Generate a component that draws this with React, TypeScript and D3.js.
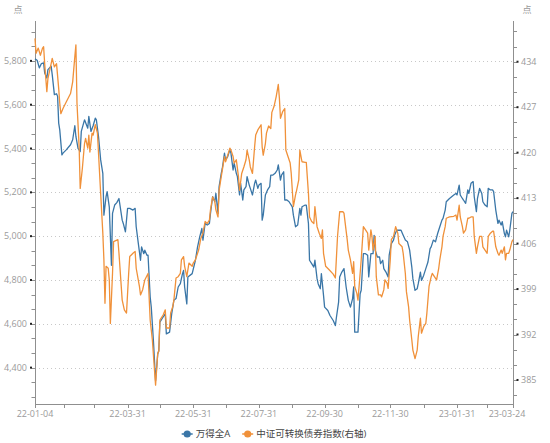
import * as React from 'react';
import * as d3 from 'd3';

// 万得全A (left axis)
const wdDates = [
  '22-01-04', '22-01-06', '22-01-08', '22-01-10', '22-01-12', '22-01-13', '22-01-15', '22-01-16', '22-01-19', '22-01-20',
  '22-01-22', '22-01-24', '22-01-25', '22-01-26', '22-01-27', '22-01-29', '22-01-30', '22-02-02', '22-02-06', '22-02-08',
  '22-02-10', '22-02-11', '22-02-13', '22-02-15', '22-02-16', '22-02-19', '22-02-22', '22-02-23', '22-02-25', '22-02-27',
  '22-03-01', '22-03-02', '22-03-04', '22-03-06', '22-03-08', '22-03-09', '22-03-11', '22-03-12', '22-03-14', '22-03-16',
  '22-03-17', '22-03-19', '22-03-21', '22-03-23', '22-03-26', '22-03-27', '22-03-29', '22-03-31', '22-04-02', '22-04-05',
  '22-04-07', '22-04-08', '22-04-10', '22-04-12', '22-04-13', '22-04-15', '22-04-16', '22-04-18', '22-04-19', '22-04-21',
  '22-04-22', '22-04-24', '22-04-26', '22-04-28', '22-04-29', '22-04-30', '22-05-02', '22-05-05', '22-05-06', '22-05-09',
  '22-05-11', '22-05-13', '22-05-15', '22-05-17', '22-05-19', '22-05-21', '22-05-22', '22-05-23', '22-05-25', '22-05-26',
  '22-05-30', '22-06-02', '22-06-04', '22-06-06', '22-06-08', '22-06-09', '22-06-11', '22-06-13', '22-06-15', '22-06-16',
  '22-06-18', '22-06-20', '22-06-21', '22-06-23', '22-06-24', '22-06-26', '22-06-27', '22-06-29', '22-06-30', '22-07-02',
  '22-07-04', '22-07-05', '22-07-07', '22-07-08', '22-07-10', '22-07-11', '22-07-13', '22-07-14', '22-07-16', '22-07-17',
  '22-07-19', '22-07-20', '22-07-22', '22-07-23', '22-07-25', '22-07-27', '22-07-28', '22-07-30', '22-07-31', '22-08-02',
  '22-08-03', '22-08-04', '22-08-06', '22-08-08', '22-08-10', '22-08-11', '22-08-13', '22-08-15', '22-08-17', '22-08-18',
  '22-08-20', '22-08-21', '22-08-23', '22-08-24', '22-08-26', '22-08-28', '22-08-31', '22-09-01', '22-09-03', '22-09-05',
  '22-09-07', '22-09-08', '22-09-09', '22-09-12', '22-09-13', '22-09-15', '22-09-16', '22-09-18', '22-09-20', '22-09-21',
  '22-09-23', '22-09-24', '22-09-26', '22-09-27', '22-09-29', '22-09-30', '22-10-03', '22-10-05', '22-10-08', '22-10-10',
  '22-10-11', '22-10-13', '22-10-14', '22-10-16', '22-10-18', '22-10-20', '22-10-22', '22-10-24', '22-10-26', '22-10-27',
  '22-10-28', '22-10-30', '22-10-31', '22-11-02', '22-11-03', '22-11-05', '22-11-07', '22-11-09', '22-11-10', '22-11-12',
  '22-11-14', '22-11-15', '22-11-16', '22-11-18', '22-11-20', '22-11-21', '22-11-23', '22-11-24', '22-11-26', '22-11-28',
  '22-11-29', '22-12-01', '22-12-03', '22-12-04', '22-12-06', '22-12-08', '22-12-10', '22-12-12', '22-12-14', '22-12-16',
  '22-12-18', '22-12-20', '22-12-21', '22-12-23', '22-12-25', '22-12-26', '22-12-28', '22-12-29', '22-12-31', '23-01-02',
  '23-01-04', '23-01-06', '23-01-07', '23-01-09', '23-01-11', '23-01-13', '23-01-15', '23-01-17', '23-01-18', '23-01-20',
  '23-01-21', '23-01-24', '23-01-28', '23-01-30', '23-01-31', '23-02-02', '23-02-03', '23-02-05', '23-02-06', '23-02-08',
  '23-02-10', '23-02-11', '23-02-13', '23-02-15', '23-02-16', '23-02-18', '23-02-19', '23-02-21', '23-02-23', '23-02-24',
  '23-02-26', '23-02-28', '23-03-01', '23-03-03', '23-03-05', '23-03-06', '23-03-08', '23-03-10', '23-03-11', '23-03-13',
  '23-03-14', '23-03-16', '23-03-17', '23-03-18', '23-03-20', '23-03-21', '23-03-23', '23-03-24',
];
const wdValues = [
  5809, 5803, 5768, 5788, 5791, 5745, 5722, 5760, 5776, 5737,
  5646, 5650, 5638, 5516, 5485, 5371, 5379, 5394, 5417, 5440,
  5504, 5455, 5401, 5386, 5478, 5531, 5493, 5547, 5478, 5504,
  5539, 5531, 5455, 5348, 5287, 5096, 5180, 5203, 5134, 4867,
  5104, 5142, 5153, 5172, 5073, 5058, 5020, 5127, 5127, 5119,
  5127, 5043, 4966, 4890, 4951, 4920, 4936, 4913, 4913, 4722,
  4676, 4523, 4340, 4462, 4478, 4607, 4623, 4646, 4554, 4562,
  4646, 4707, 4715, 4768, 4783, 4829, 4844, 4768, 4691, 4814,
  4829, 4890, 4951, 4997, 5035, 4982, 5058, 5051, 5058, 5104,
  5180, 5157, 5195, 5104, 5226, 5287, 5310, 5379, 5348, 5363,
  5394, 5379, 5302, 5333, 5287, 5272, 5188, 5241, 5165, 5211,
  5226, 5272, 5233, 5218, 5188, 5241, 5256, 5218, 5233, 5241,
  5073, 5096, 5188, 5211, 5226, 5279, 5279, 5287, 5302, 5325,
  5256, 5279, 5294, 5165, 5165, 5157, 5134, 5096, 5043, 5051,
  5127, 5096, 5134, 5142, 5142, 5058, 4890, 4875, 4859, 4890,
  4806, 4783, 4760, 4829, 4730, 4676, 4661, 4638, 4615, 4592,
  4630, 4699, 4814, 4836, 4852, 4768, 4707, 4676, 4715, 4768,
  4562, 4562, 4562, 4737, 4753, 4920, 4920, 4913, 4814, 4920,
  4920, 5004, 4936, 4905, 4905, 4875, 4890, 4852, 4836, 4814,
  4913, 4966, 4982, 5004, 5027, 5027, 5027, 5004, 4982, 4974,
  4936, 4859, 4806, 4753, 4760, 4783, 4836, 4798, 4821, 4852,
  4882, 4943, 4951, 4982, 4974, 5012, 5043, 5073, 5081, 5119,
  5157, 5172, 5188, 5195, 5188, 5233, 5188, 5172, 5165, 5150,
  5211, 5195, 5241, 5249, 5180, 5112, 5172, 5218, 5195, 5157,
  5142, 5134, 5218, 5211, 5211, 5203, 5119, 5058, 5073, 5051,
  5066, 5012, 4997, 5027, 4997, 5027, 5104, 5112,
];

// 中证可转换债券指数 (right axis)
const cbDates = [
  '22-01-04', '22-01-05', '22-01-07', '22-01-09', '22-01-11', '22-01-12', '22-01-13', '22-01-15', '22-01-16', '22-01-19',
  '22-01-20', '22-01-22', '22-01-24', '22-01-26', '22-01-27', '22-01-28', '22-01-30', '22-02-02', '22-02-06', '22-02-08',
  '22-02-10', '22-02-11', '22-02-12', '22-02-14', '22-02-15', '22-02-17', '22-02-19', '22-02-20', '22-02-22', '22-02-23',
  '22-02-24', '22-02-26', '22-02-27', '22-03-01', '22-03-03', '22-03-04', '22-03-06', '22-03-08', '22-03-09', '22-03-10',
  '22-03-11', '22-03-13', '22-03-14', '22-03-15', '22-03-17', '22-03-18', '22-03-22', '22-03-23', '22-03-26', '22-03-28',
  '22-03-30', '22-04-01', '22-04-02', '22-04-05', '22-04-07', '22-04-08', '22-04-11', '22-04-12', '22-04-14', '22-04-16',
  '22-04-19', '22-04-21', '22-04-23', '22-04-25', '22-04-26', '22-04-28', '22-04-29', '22-04-30', '22-05-03', '22-05-05',
  '22-05-06', '22-05-09', '22-05-10', '22-05-12', '22-05-13', '22-05-15', '22-05-17', '22-05-19', '22-05-20', '22-05-22',
  '22-05-23', '22-05-25', '22-05-27', '22-05-30', '22-05-31', '22-06-02', '22-06-05', '22-06-07', '22-06-09', '22-06-11',
  '22-06-13', '22-06-15', '22-06-16', '22-06-18', '22-06-20', '22-06-21', '22-06-23', '22-06-24', '22-06-26', '22-06-27',
  '22-06-29', '22-06-30', '22-07-02', '22-07-04', '22-07-05', '22-07-07', '22-07-08', '22-07-10', '22-07-12', '22-07-13',
  '22-07-15', '22-07-17', '22-07-19', '22-07-20', '22-07-22', '22-07-23', '22-07-25', '22-07-27', '22-07-28', '22-07-30',
  '22-08-02', '22-08-03', '22-08-04', '22-08-06', '22-08-07', '22-08-09', '22-08-11', '22-08-12', '22-08-14', '22-08-16',
  '22-08-18', '22-08-19', '22-08-20', '22-08-22', '22-08-24', '22-08-25', '22-08-27', '22-08-29', '22-08-30', '22-09-01',
  '22-09-03', '22-09-04', '22-09-06', '22-09-07', '22-09-09', '22-09-12', '22-09-13', '22-09-15', '22-09-16', '22-09-18',
  '22-09-20', '22-09-21', '22-09-23', '22-09-25', '22-09-27', '22-09-28', '22-09-29', '22-10-01', '22-10-04', '22-10-08',
  '22-10-10', '22-10-12', '22-10-14', '22-10-17', '22-10-18', '22-10-21', '22-10-22', '22-10-24', '22-10-26', '22-10-27',
  '22-10-28', '22-10-30', '22-10-31', '22-11-02', '22-11-03', '22-11-05', '22-11-07', '22-11-09', '22-11-10', '22-11-12',
  '22-11-13', '22-11-14', '22-11-16', '22-11-17', '22-11-19', '22-11-21', '22-11-22', '22-11-24', '22-11-25', '22-11-27',
  '22-11-28', '22-11-30', '22-12-01', '22-12-03', '22-12-05', '22-12-07', '22-12-08', '22-12-11', '22-12-12', '22-12-14',
  '22-12-15', '22-12-17', '22-12-18', '22-12-20', '22-12-21', '22-12-23', '22-12-25', '22-12-26', '22-12-28', '22-12-29',
  '22-12-31', '23-01-02', '23-01-03', '23-01-05', '23-01-07', '23-01-08', '23-01-10', '23-01-12', '23-01-14', '23-01-15',
  '23-01-17', '23-01-18', '23-01-20', '23-01-21', '23-01-24', '23-01-28', '23-01-30', '23-01-31', '23-02-02', '23-02-03',
  '23-02-05', '23-02-06', '23-02-08', '23-02-10', '23-02-11', '23-02-13', '23-02-15', '23-02-16', '23-02-18', '23-02-19',
  '23-02-21', '23-02-23', '23-02-24', '23-02-26', '23-02-28', '23-03-01', '23-03-03', '23-03-05', '23-03-06', '23-03-08',
  '23-03-10', '23-03-11', '23-03-13', '23-03-14', '23-03-16', '23-03-17', '23-03-18', '23-03-20', '23-03-21', '23-03-23',
  '23-03-24',
];
const cbValues = [
  437.6, 435.3, 436.1, 435.0, 436.1, 436.3, 433.7, 429.4, 431.4, 433.7,
  434.5, 433.2, 433.7, 429.9, 427.6, 426.0, 426.8, 427.8, 429.1, 430.9,
  434.8, 436.6, 427.6, 420.9, 414.5, 417.6, 421.4, 422.2, 420.7, 422.7,
  420.1, 423.0, 422.7, 424.3, 423.0, 419.9, 413.7, 407.6, 403.5, 396.8,
  402.5, 402.2, 400.4, 393.7, 401.4, 406.3, 406.6, 404.5, 397.3, 395.8,
  395.3, 401.4, 404.0, 404.5, 404.8, 402.2, 399.4, 398.1, 398.9, 400.4,
  401.4, 394.2, 391.2, 386.5, 384.2, 389.1, 389.4, 394.2, 395.0, 395.8,
  393.0, 393.0, 395.3, 396.3, 397.3, 400.7, 400.9, 401.4, 403.5, 404.0,
  402.5, 400.9, 403.0, 402.5, 403.0, 403.5, 405.0, 406.8, 407.6, 409.4,
  409.1, 409.6, 411.2, 413.2, 412.5, 411.2, 410.1, 414.2, 416.3, 417.3,
  419.4, 418.6, 419.6, 420.7, 420.4, 419.4, 418.4, 418.9, 416.3, 414.2,
  416.8, 417.8, 418.9, 420.4, 418.9, 417.8, 416.8, 420.9, 422.7, 423.5,
  424.3, 420.9, 419.6, 421.4, 423.0, 424.1, 423.7, 426.2, 427.1, 428.6,
  430.5, 428.4, 425.3, 426.3, 426.8, 420.4, 419.4, 418.4, 416.8, 411.7,
  413.5, 414.2, 415.8, 420.4, 418.6, 418.5, 418.5, 413.7, 410.1, 409.4,
  409.1, 411.7, 408.6, 407.6, 406.8, 408.1, 404.5, 402.5, 402.0, 401.3,
  400.7, 407.1, 410.9, 410.9, 410.7, 406.6, 405.0, 403.5, 401.4, 403.2,
  399.4, 398.3, 397.3, 401.4, 403.5, 408.6, 408.1, 407.6, 405.0, 408.1,
  407.1, 405.0, 407.1, 400.9, 398.1, 398.1, 397.8, 398.9, 400.4, 399.9,
  399.1, 403.5, 406.6, 407.1, 408.6, 407.6, 406.0, 405.5, 404.5, 401.4,
  398.6, 396.3, 394.2, 391.2, 389.6, 388.3, 389.6, 391.7, 394.5, 392.2,
  393.2, 393.7, 395.3, 399.4, 400.9, 401.4, 400.9, 400.4, 402.2, 403.5,
  405.5, 407.1, 408.6, 409.9, 410.1, 410.2, 410.4, 409.6, 411.9, 410.1,
  408.6, 407.6, 408.1, 409.9, 409.9, 410.1, 410.1, 407.1, 404.5, 405.5,
  407.1, 407.1, 405.5, 405.0, 404.5, 407.1, 407.6, 407.9, 407.9, 405.5,
  404.5, 404.2, 405.0, 404.5, 405.5, 403.5, 404.5, 404.5, 405.0, 406.3,
  406.6,
];

const seriesNames = ['万得全A', '中证可转换债券指数(右轴)'];
const seriesColors = ['#3a76a7', '#f0913a'];

const xStart = '22-01-04';
const xEnd = '23-03-24';
const xTickDates = [
  '22-01-04', '22-01-31', '22-02-28', '22-03-31', '22-04-30', '22-05-31', '22-06-30', '22-07-31',
  '22-08-31', '22-09-30', '22-10-31', '22-11-30', '22-12-31', '23-01-31', '23-02-28', '23-03-24',
];
const xLabels = ['22-01-04', '22-03-31', '22-05-31', '22-07-31', '22-09-30', '22-11-30', '23-01-31', '23-03-24'];

const leftDomain = [4234, 5982];
const leftTicks = [4400, 4600, 4800, 5000, 5200, 5400, 5600, 5800];
const rightDomain = [381.3, 440.27];
const rightTicks = [385, 392, 399, 406, 413, 420, 427, 434];
const unitLabel = '点';

const config = {
  width: 550,
  height: 443,
  margin: { top: 21, right: 37, bottom: 39, left: 35 },
};

const FONT = "'Open Sans', 'Noto Sans CJK SC', sans-serif";

function Chart() {
  const ref = React.useRef<SVGSVGElement>(null);

  React.useEffect(() => {
    const { width, height, margin } = config;
    const svg = d3.select(ref.current);
    svg.selectAll('*').remove();

    const parse = d3.timeParse('%y-%m-%d');
    const x = d3.scaleTime()
      .domain([parse(xStart), parse(xEnd)])
      .range([margin.left, width - margin.right]);
    const yL = d3.scaleLinear().domain(leftDomain).range([height - margin.bottom, margin.top]);
    const yR = d3.scaleLinear().domain(rightDomain).range([height - margin.bottom, margin.top]);

    const x0 = margin.left;
    const x1 = width - margin.right;
    const yTop = margin.top;
    const yBot = height - margin.bottom;

    // grid
    svg.append('g')
      .selectAll('line')
      .data(leftTicks)
      .enter()
      .append('line')
      .attr('x1', x0)
      .attr('x2', x1)
      .attr('y1', d => Math.round(yL(d)) + 0.5)
      .attr('y2', d => Math.round(yL(d)) + 0.5)
      .attr('stroke', '#c8c8c8')
      .attr('stroke-dasharray', '1,3');

    // minor ticks (3 per labelled step)
    const lStep = (leftTicks[1] - leftTicks[0]) / 3;
    const lMinor = d3.range(leftTicks[0] - 3 * lStep, leftTicks[leftTicks.length - 1] + 3 * lStep + 1, lStep)
      .filter(v => v >= leftDomain[0] && v <= leftDomain[1]);
    const rStep = (rightTicks[1] - rightTicks[0]) / 3;
    const rMinor = d3.range(rightTicks[0] - 3 * rStep, rightTicks[rightTicks.length - 1] + 3 * rStep + 0.01, rStep)
      .filter(v => v >= rightDomain[0] && v <= rightDomain[1]);

    const axisColor = '#8f8f8f';
    const labelColor = '#9a9a9a';

    const gL = svg.append('g');
    gL.append('line')
      .attr('x1', x0 + 0.5).attr('x2', x0 + 0.5)
      .attr('y1', yTop).attr('y2', yBot)
      .attr('stroke', axisColor);
    gL.selectAll('.minor')
      .data(lMinor)
      .enter()
      .append('line')
      .attr('x1', x0 - 3.5).attr('x2', x0)
      .attr('y1', d => Math.round(yL(d)) + 0.5)
      .attr('y2', d => Math.round(yL(d)) + 0.5)
      .attr('stroke', axisColor);
    gL.selectAll('.mark')
      .data(leftTicks)
      .enter()
      .append('rect')
      .attr('x', x0 - 5)
      .attr('y', d => yL(d) - 1)
      .attr('width', 2)
      .attr('height', 2)
      .attr('fill', '#222');
    gL.selectAll('text')
      .data(leftTicks)
      .enter()
      .append('text')
      .attr('x', x0 - 8)
      .attr('y', d => yL(d))
      .attr('dy', '0.35em')
      .attr('text-anchor', 'end')
      .style('font-size', '9px')
      .attr('fill', labelColor)
      .text(d => d3.format(',')(d));

    const gR = svg.append('g');
    gR.append('line')
      .attr('x1', x1 + 0.5).attr('x2', x1 + 0.5)
      .attr('y1', yTop).attr('y2', yBot)
      .attr('stroke', axisColor);
    gR.selectAll('.minor')
      .data(rMinor)
      .enter()
      .append('line')
      .attr('x1', x1).attr('x2', x1 + 4)
      .attr('y1', d => Math.round(yR(d)) + 0.5)
      .attr('y2', d => Math.round(yR(d)) + 0.5)
      .attr('stroke', axisColor);
    gR.selectAll('.mark')
      .data(rightTicks)
      .enter()
      .append('rect')
      .attr('x', x1 + 3.5)
      .attr('y', d => yR(d) - 1)
      .attr('width', 2)
      .attr('height', 2)
      .attr('fill', '#222');
    gR.selectAll('text')
      .data(rightTicks)
      .enter()
      .append('text')
      .attr('x', x1 + 8)
      .attr('y', d => yR(d))
      .attr('dy', '0.35em')
      .style('font-size', '9px')
      .attr('fill', labelColor)
      .text(d => d);

    // unit labels
    svg.append('text')
      .attr('x', x0 - 17).attr('y', 10).attr('dy', '0.35em')
      .attr('text-anchor', 'middle')
      .style('font-size', '9px')
      .attr('fill', labelColor)
      .text(unitLabel);
    svg.append('text')
      .attr('x', x1 + 14).attr('y', 10).attr('dy', '0.35em')
      .attr('text-anchor', 'middle')
      .style('font-size', '9px')
      .attr('fill', labelColor)
      .text(unitLabel);

    // x axis
    const gX = svg.append('g');
    gX.append('line')
      .attr('x1', x0).attr('x2', x1 + 1)
      .attr('y1', yBot + 0.5).attr('y2', yBot + 0.5)
      .attr('stroke', axisColor);
    gX.selectAll('.tick')
      .data(xTickDates)
      .enter()
      .append('line')
      .attr('x1', d => Math.round(x(parse(d))) + 0.5)
      .attr('x2', d => Math.round(x(parse(d))) + 0.5)
      .attr('y1', yBot)
      .attr('y2', yBot + 4)
      .attr('stroke', axisColor);
    gX.selectAll('text')
      .data(xLabels)
      .enter()
      .append('text')
      .attr('x', (d, i) => x(parse(d)) + (i === xLabels.length - 1 ? -6 : 0))
      .attr('y', yBot + 10)
      .attr('dy', '0.35em')
      .attr('text-anchor', 'middle')
      .style('font-size', '9px')
      .attr('fill', labelColor)
      .text(d => d);

    // lines
    const wd = wdDates.map((d, i) => ({ date: parse(d), value: wdValues[i] }));
    const cb = cbDates.map((d, i) => ({ date: parse(d), value: cbValues[i] }));
    const lineL = d3.line<any>().x(d => x(d.date)).y(d => yL(d.value));
    const lineR = d3.line<any>().x(d => x(d.date)).y(d => yR(d.value));

    svg.append('path')
      .datum(wd)
      .attr('d', lineL)
      .attr('fill', 'none')
      .attr('stroke', seriesColors[0])
      .attr('stroke-width', 1.3)
      .attr('stroke-linejoin', 'round');
    svg.append('path')
      .datum(cb)
      .attr('d', lineR)
      .attr('fill', 'none')
      .attr('stroke', seriesColors[1])
      .attr('stroke-width', 1.3)
      .attr('stroke-linejoin', 'round');

    // legend
    const legend = svg.append('g');
    const legendY = 434;
    let cursor = 0;
    const items = seriesNames.map((name, i) => {
      const g = legend.append('g');
      g.append('line')
        .attr('x1', 0).attr('x2', 11)
        .attr('y1', legendY).attr('y2', legendY)
        .attr('stroke', seriesColors[i])
        .attr('stroke-width', 1.5);
      g.append('circle')
        .attr('cx', 5.5).attr('cy', legendY).attr('r', 3.6)
        .attr('fill', seriesColors[i]);
      const t = g.append('text')
        .attr('x', 14).attr('y', legendY).attr('dy', '0.35em')
        .style('font-size', '9.5px')
        .attr('fill', '#444')
        .text(name);
      const w = 14 + (t.node() as SVGTextElement).getComputedTextLength();
      g.attr('transform', `translate(${cursor},0)`);
      cursor += w + 12;
      return g;
    });
    const total = cursor - 12;
    legend.attr('transform', `translate(${(x0 + x1) / 2 - total / 2},0)`);
  }, []);

  return (
    <svg
      ref={ref}
      width={config.width}
      height={config.height}
      style={{ position: 'absolute', left: 0, top: 0, fontFamily: FONT, background: '#fff' }}
    />
  );
}

export default function App() {
  return <Chart />;
}
